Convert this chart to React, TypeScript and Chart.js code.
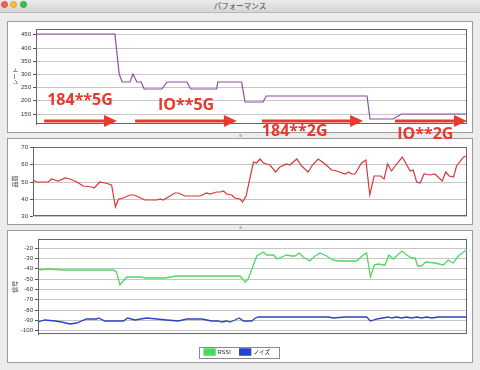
import React, { useEffect, useRef } from "react";
import { Chart, registerables } from "chart.js";

Chart.register(...registerables);

// ---- data (x = elapsed time, % of the recording) ----
const rateTimes = [0, 18.3, 19.3, 20.0, 21.8, 22.5, 23.4, 24.4, 25.1, 29.2, 30.4, 35.0, 35.9, 41.9, 42.2, 47.7, 48.5, 52.7, 53.4, 76.8, 77.5, 82.8, 84.8, 100];
const rateValues = [450, 450, 300, 270, 270, 300, 270, 270, 245, 245, 270, 270, 245, 245, 270, 270, 195, 195, 215, 215, 130, 130, 147, 147];

const qualityTimes = [0, 0.8, 3.5, 4.3, 5.8, 7.4, 8.5, 10.1, 11.6, 13.5, 14.1, 15.4, 16.6, 17.4, 18.1, 19.0, 19.7, 20.8, 22.3, 23.3, 24.3, 25.8, 28.5, 29.3, 30.0, 31.2, 32.7, 33.5, 35.0, 38.5, 40.0, 40.8, 42.3, 43.1, 43.9, 44.6, 45.8, 46.5, 47.7, 48.3, 49.1, 50.8, 51.5, 52.3, 53.1, 54.6, 55.9, 56.9, 58.4, 59.2, 60.8, 61.9, 63.4, 64.4, 65.7, 67.3, 68.8, 70.0, 71.9, 72.7, 73.4, 74.2, 75.7, 76.7, 77.6, 78.6, 80.1, 80.9, 81.7, 82.6, 83.8, 85.1, 86.9, 87.6, 88.4, 89.2, 90.1, 91.5, 92.6, 94.3, 95.1, 95.9, 96.9, 97.6, 99.2, 100];
const qualityValues = [51, 50, 50, 51.2, 50.2, 52, 51.4, 49.5, 47.5, 47, 46, 50, 49, 48.3, 48, 35, 40, 40.3, 42.3, 42, 41, 39.4, 39.4, 40, 39.4, 41, 43.5, 43.3, 41.3, 41.3, 43, 42.5, 44, 43.8, 44.2, 42.5, 42, 40.4, 40, 38.2, 41.3, 61.3, 60.7, 63.2, 60.7, 59.7, 55.3, 58.4, 60.3, 59.7, 63.2, 58.8, 55.3, 59.7, 63.2, 60.3, 56.8, 56.2, 54.3, 55.3, 54.1, 54.5, 60.7, 62.6, 42.3, 53.3, 53.3, 51.4, 60.3, 56.2, 60.3, 64.6, 56.4, 56.8, 49.8, 49, 54.3, 53.9, 54.5, 50.2, 55.3, 53.3, 52.6, 58.8, 64.6, 65.2];

const rssiTimes = [0, 2.4, 5.9, 17.6, 18.3, 19.1, 20.7, 24.2, 24.9, 29.6, 32.3, 47.1, 48.3, 49.0, 51.0, 52.5, 53.3, 54.9, 55.8, 56.8, 58.0, 59.1, 59.9, 60.9, 61.8, 63.4, 64.6, 65.7, 67.3, 68.7, 70.0, 71.2, 72.7, 74.3, 75.8, 76.6, 77.5, 78.4, 79.3, 80.5, 80.9, 81.8, 82.8, 84.8, 86.3, 87.1, 87.9, 88.5, 89.4, 90.4, 92.5, 94.5, 95.6, 96.8, 98.0, 99.5, 100];
const rssiValues = [-41.9, -40.3, -42, -42, -43.5, -55.8, -48, -48, -49.4, -49.4, -47.7, -47.7, -53.2, -50, -28, -24.2, -26.8, -27.4, -31.3, -28.7, -27.4, -28, -28, -25.2, -29, -32.6, -28, -24.8, -28, -32.3, -32.6, -33.2, -32.6, -33.2, -27.4, -24.8, -48.4, -37.1, -35.5, -36.5, -37.1, -26.8, -30.6, -23.2, -28, -30, -30, -37.7, -38.1, -33.9, -34.5, -37.1, -32.3, -34.8, -28, -23.5, -22.6];

const noiseTimes = [0, 1.6, 4.0, 5.5, 7.5, 9.0, 11.3, 13.7, 14.1, 15.6, 17.9, 19.9, 20.9, 22.6, 25.3, 27.7, 30.0, 32.7, 34.7, 38.2, 40.5, 42.0, 42.8, 44.0, 44.8, 45.9, 46.9, 47.9, 49.8, 50.7, 51.4, 67.7, 68.8, 71.6, 76.6, 77.5, 79.0, 81.7, 82.4, 83.6, 84.8, 85.9, 87.1, 88.3, 89.4, 90.6, 91.8, 93.3, 100];
const noiseValues = [-91.9, -90.3, -91, -92, -94.2, -92.6, -89.4, -88.7, -87.7, -91.3, -90.6, -90.6, -88, -90, -88, -88.7, -90.3, -91.3, -89.4, -89.4, -91, -90.6, -91.9, -90.6, -91.9, -89.7, -88, -91, -90.6, -87.7, -87.4, -87.4, -88.4, -87.1, -87.1, -90.6, -88.7, -87.4, -88, -86.8, -87.7, -86.8, -87.7, -86.8, -87.7, -86.8, -87.7, -86.8, -86.8];

// annotations on the rate chart (data units)
const bandLabels = ["184**5G", "IO**5G", "184**2G", "IO**2G"];
const bandLabelTimes = [2.6, 28.3, 52.4, 83.8];
const bandLabelRates = [184, 165, 65, 55];
const bandArrowStarts = [1.9, 23.0, 52.4, 83.3];
const bandArrowEnds = [18.8, 46.6, 75.9, 100];
const bandArrowRate = 124;

const windowTitle = "パフォーマンス";
const rateTitle = "レート";
const qualityTitle = "品質";
const signalTitle = "信号";
const rssiLabel = "RSSI";
const noiseLabel = "ノイズ";

const tickFont = "'Liberation Sans', Arial, 'Noto Sans CJK JP', sans-serif";
const cjkFont = "'Noto Sans CJK JP', 'Liberation Sans', sans-serif";

const pts = (xs: number[], ys: number[]) => xs.map((x, i) => ({ x, y: ys[i] }));

const framePlugin = {
  id: "plotFrame",
  beforeDatasetsDraw(chart: any) {
    const { ctx, chartArea: a } = chart;
    ctx.save();
    ctx.strokeStyle = "#666";
    ctx.lineWidth = 1;
    const l = Math.round(a.left) + 0.5;
    const t = Math.round(a.top) + 0.5;
    const r = Math.round(a.right) - 0.5;
    const b = Math.round(a.bottom) - 0.5;
    ctx.strokeRect(l, t, r - l, b - t);
    ctx.restore();
  },
};

const bandPlugin = {
  id: "bandAnnotations",
  afterDatasetsDraw(chart: any) {
    const { ctx } = chart;
    const xs = chart.scales.x;
    const ys = chart.scales.y;
    ctx.save();
    ctx.fillStyle = "#e8392c";
    ctx.strokeStyle = "#e8392c";
    ctx.lineWidth = 3;
    bandArrowStarts.forEach((s, i) => {
      const x0 = xs.getPixelForValue(s);
      const x1 = xs.getPixelForValue(bandArrowEnds[i]);
      const yy = ys.getPixelForValue(bandArrowRate);
      const head = 13;
      ctx.beginPath();
      ctx.moveTo(x0, yy);
      ctx.lineTo(x1 - head + 1, yy);
      ctx.stroke();
      ctx.beginPath();
      ctx.moveTo(x1, yy);
      ctx.lineTo(x1 - head, yy - 6);
      ctx.lineTo(x1 - head, yy + 6);
      ctx.closePath();
      ctx.fill();
    });
    ctx.font = "bold 16px 'Open Sans', 'Liberation Sans', sans-serif";
    ctx.textBaseline = "alphabetic";
    ctx.textAlign = "left";
    bandLabels.forEach((txt, i) => {
      ctx.fillText(txt, xs.getPixelForValue(bandLabelTimes[i]), ys.getPixelForValue(bandLabelRates[i]));
    });
    ctx.restore();
  },
};

const legendFramePlugin = {
  id: "legendFrame",
  afterDraw(chart: any) {
    const boxes = chart.legend && chart.legend.legendHitBoxes;
    if (!boxes || !boxes.length) return;
    const { ctx } = chart;
    const l = Math.min(...boxes.map((b: any) => b.left)) - 5;
    const r = Math.max(...boxes.map((b: any) => b.left + b.width)) + 9;
    const t = boxes[0].top - 2.5;
    const b = boxes[0].top + boxes[0].height + 2.5;
    ctx.save();
    ctx.strokeStyle = "#8a8a8a";
    ctx.lineWidth = 1;
    ctx.strokeRect(Math.round(l) + 0.5, Math.round(t) + 0.5, Math.round(r - l), Math.round(b - t));
    ctx.restore();
  },
};

function yAxis(min: number, max: number, step: number, title: string, width: number) {
  return {
    type: "linear",
    position: "left",
    min,
    max,
    alignToPixels: true,
    afterFit: (s: any) => {
      s.width = width;
    },
    grid: { color: "#c6c6c6", lineWidth: 1, tickLength: 3, tickColor: "#555", drawTicks: true },
    border: { color: "#666" },
    ticks: { stepSize: step, includeBounds: false, padding: 2, color: "#333", font: { size: 6, family: tickFont } },
    title: { display: true, text: title, color: "#333", font: { size: 6, family: cjkFont }, padding: { top: 4.4, bottom: 0 } },
  };
}

const hiddenX = { type: "linear", min: 0, max: 100, display: false };

export default function App() {
  const c1 = useRef<HTMLCanvasElement>(null);
  const c2 = useRef<HTMLCanvasElement>(null);
  const c3 = useRef<HTMLCanvasElement>(null);

  useEffect(() => {
    const common = {
      animation: false,
      responsive: false,
      events: [],
      plugins: { legend: { display: false }, tooltip: { enabled: false } },
    };
    const line = (data: any, color: string, width = 1.2) => ({
      data,
      borderColor: color,
      backgroundColor: color,
      borderWidth: width,
      pointRadius: 0,
      tension: 0,
      fill: false,
    });

    const ch1 = new Chart(c1.current!, {
      type: "line",
      data: { datasets: [{ label: rateTitle, ...line(pts(rateTimes, rateValues), "#8d4f9d") }] },
      options: {
        ...common,
        layout: { padding: { top: 8, right: 6, bottom: 22, left: 0 } },
        scales: { x: hiddenX, y: yAxis(111, 470, 50, rateTitle, 29) },
      } as any,
      plugins: [framePlugin, bandPlugin],
    });

    const ch2 = new Chart(c2.current!, {
      type: "line",
      data: { datasets: [{ label: qualityTitle, ...line(pts(qualityTimes, qualityValues), "#d8383a") }] },
      options: {
        ...common,
        layout: { padding: { top: 9.3, right: 6, bottom: 9.3, left: 0 } },
        scales: { x: hiddenX, y: yAxis(30, 70, 5, qualityTitle, 26) },
      } as any,
      plugins: [framePlugin],
    });

    const ch3 = new Chart(c3.current!, {
      type: "line",
      data: {
        datasets: [
          { label: rssiLabel, ...line(pts(rssiTimes, rssiValues), "#4fd862", 1.3), backgroundColor: "#3fe04f", borderColor: "#4fd862" },
          { label: noiseLabel, ...line(pts(noiseTimes, noiseValues), "#2a43c0", 1.3), backgroundColor: "#1e44d8" },
        ],
      },
      options: {
        ...common,
        layout: { padding: { top: 9.3, right: 6, bottom: 1, left: 0 } },
        plugins: {
          tooltip: { enabled: false },
          legend: {
            display: true,
            position: "bottom",
            align: "center",
            labels: { boxWidth: 11, boxHeight: 6, padding: 9, color: "#222", font: { size: 5.5, family: tickFont } },
          },
        },
        scales: {
          x: {
            type: "linear",
            min: 0,
            max: 100,
            display: true,
            grid: { display: false },
            ticks: { display: false },
            border: { display: false },
            afterFit: (s: any) => {
              s.height = 6;
            },
          },
          y: yAxis(-103.6, -12, 10, signalTitle, 31),
        },
      } as any,
      plugins: [framePlugin, legendFramePlugin],
    });

    return () => {
      ch1.destroy();
      ch2.destroy();
      ch3.destroy();
    };
  }, []);

  const panel = (top: number, height: number): React.CSSProperties => ({
    position: "absolute",
    left: 7,
    top,
    width: 466,
    height,
    boxSizing: "border-box",
    background: "#fff",
    border: "1px solid #9d9d9d",
  });
  const light = (left: number, color: string, border: string): React.CSSProperties => ({
    position: "absolute",
    left,
    top: 1,
    width: 7,
    height: 7,
    borderRadius: "50%",
    background: color,
    boxSizing: "border-box",
    border: `0.5px solid ${border}`,
  });
  const dot = (top: number): React.CSSProperties => ({
    position: "absolute",
    left: 239,
    top,
    width: 3,
    height: 3,
    borderRadius: "50%",
    background: "#b8b8b8",
  });

  return (
    <div style={{ position: "fixed", left: 0, top: 0, width: 480, height: 370, overflow: "hidden", background: "#ececec" }}>
      <div style={{ position: "absolute", left: 0, top: 0, width: 480, height: 12, background: "linear-gradient(#ebebeb, #d5d5d5)", borderBottom: "1px solid #b9b9b9" }}>
        <div style={light(1, "#fc605b", "#de4a45")} />
        <div style={light(10, "#fdbc40", "#dea236")} />
        <div style={light(20, "#34c84a", "#27aa35")} />
        <div style={{ position: "absolute", left: 0, right: 0, top: 0, height: 11, lineHeight: "11px", textAlign: "center", fontSize: 7.5, color: "#4a4a4a", fontFamily: cjkFont }}>
          {windowTitle}
        </div>
      </div>
      <div style={panel(21, 112)} />
      <div style={panel(138, 87)} />
      <div style={panel(230, 133)} />
      <div style={dot(134)} />
      <div style={dot(226)} />
      <canvas ref={c3} width={466} height={136} style={{ position: "absolute", left: 7, top: 230, zIndex: 1 }} />
      <canvas ref={c2} width={466} height={87} style={{ position: "absolute", left: 7, top: 138, zIndex: 2 }} />
      <canvas ref={c1} width={466} height={125} style={{ position: "absolute", left: 7, top: 21, zIndex: 3 }} />
    </div>
  );
}
